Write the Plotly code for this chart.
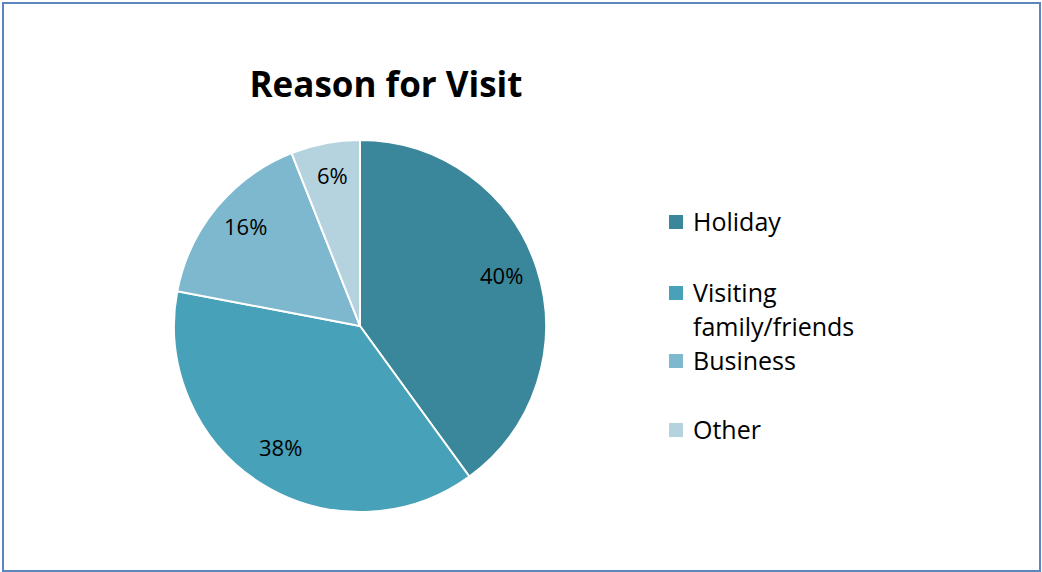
import math
import plotly.graph_objects as go

labels = ["Holiday", "Visiting<br>family/friends", "Business", "Other"]
values = [40, 38, 16, 6]
colors = ["#3A869A", "#47A1B8", "#7DB8CE", "#B4D3DF"]

W, H = 1042, 572
cx, cy, r = 360, 326, 186
FONT = "Open Sans, sans-serif"

fig = go.Figure(go.Pie(
    labels=labels,
    values=values,
    sort=False,
    direction="clockwise",
    rotation=0,
    marker=dict(colors=colors, line=dict(color="white", width=2)),
    textinfo="none",
    showlegend=False,
    domain=dict(x=[(cx - r) / W, (cx + r) / W], y=[1 - (cy + r) / H, 1 - (cy - r) / H]),
    hoverinfo="label+percent",
))

annotations = []
# percentage labels placed along each slice's mid-angle (derived from values)
total = sum(values)
cum = 0
for v in values:
    mid = (cum + v / 2) / total * 2 * math.pi
    cum += v
    px = cx + 0.8 * r * math.sin(mid)
    py = cy - 0.8 * r * math.cos(mid) - 5
    annotations.append(dict(x=px / W, y=1 - py / H, xref="paper", yref="paper",
                            text=f"{round(100 * v / total)}%", showarrow=False,
                            xanchor="center", yanchor="middle",
                            font=dict(family=FONT, size=22, color="black")))

# legend (manual, to reproduce the original spacing)
legend_y = [222, 293, 361, 430]
line_gap = 34
shapes = [dict(type="rect", xref="paper", yref="paper", x0=3 / W, x1=1040 / W, y0=1 - 571 / H, y1=1 - 3 / H,
               line=dict(color="#5B86BE", width=2))]
for lab, col, ly in zip(labels, colors, legend_y):
    shapes.append(dict(type="rect", xref="paper", yref="paper",
                       x0=669 / W, x1=683 / W, y0=1 - (ly + 7) / H, y1=1 - (ly - 7) / H,
                       fillcolor=col, line=dict(width=0)))
    for i, part in enumerate(lab.split("<br>")):
        annotations.append(dict(x=691 / W, y=1 - (ly - 1 + i * line_gap) / H, xref="paper", yref="paper",
                                text=part, showarrow=False, xanchor="left", yanchor="middle", align="left",
                                font=dict(family=FONT, size=25, color="black")))

fig.update_layout(
    width=W, height=H,
    margin=dict(l=0, r=0, t=0, b=0),
    paper_bgcolor="white",
    plot_bgcolor="white",
    title=dict(text="<b>Reason for Visit</b>", x=386 / W, xanchor="center", y=1 - 85 / H, yanchor="middle",
               font=dict(family=FONT, size=35, color="black")),
    shapes=shapes,
    annotations=annotations,
)

fig.write_html("out.html")
